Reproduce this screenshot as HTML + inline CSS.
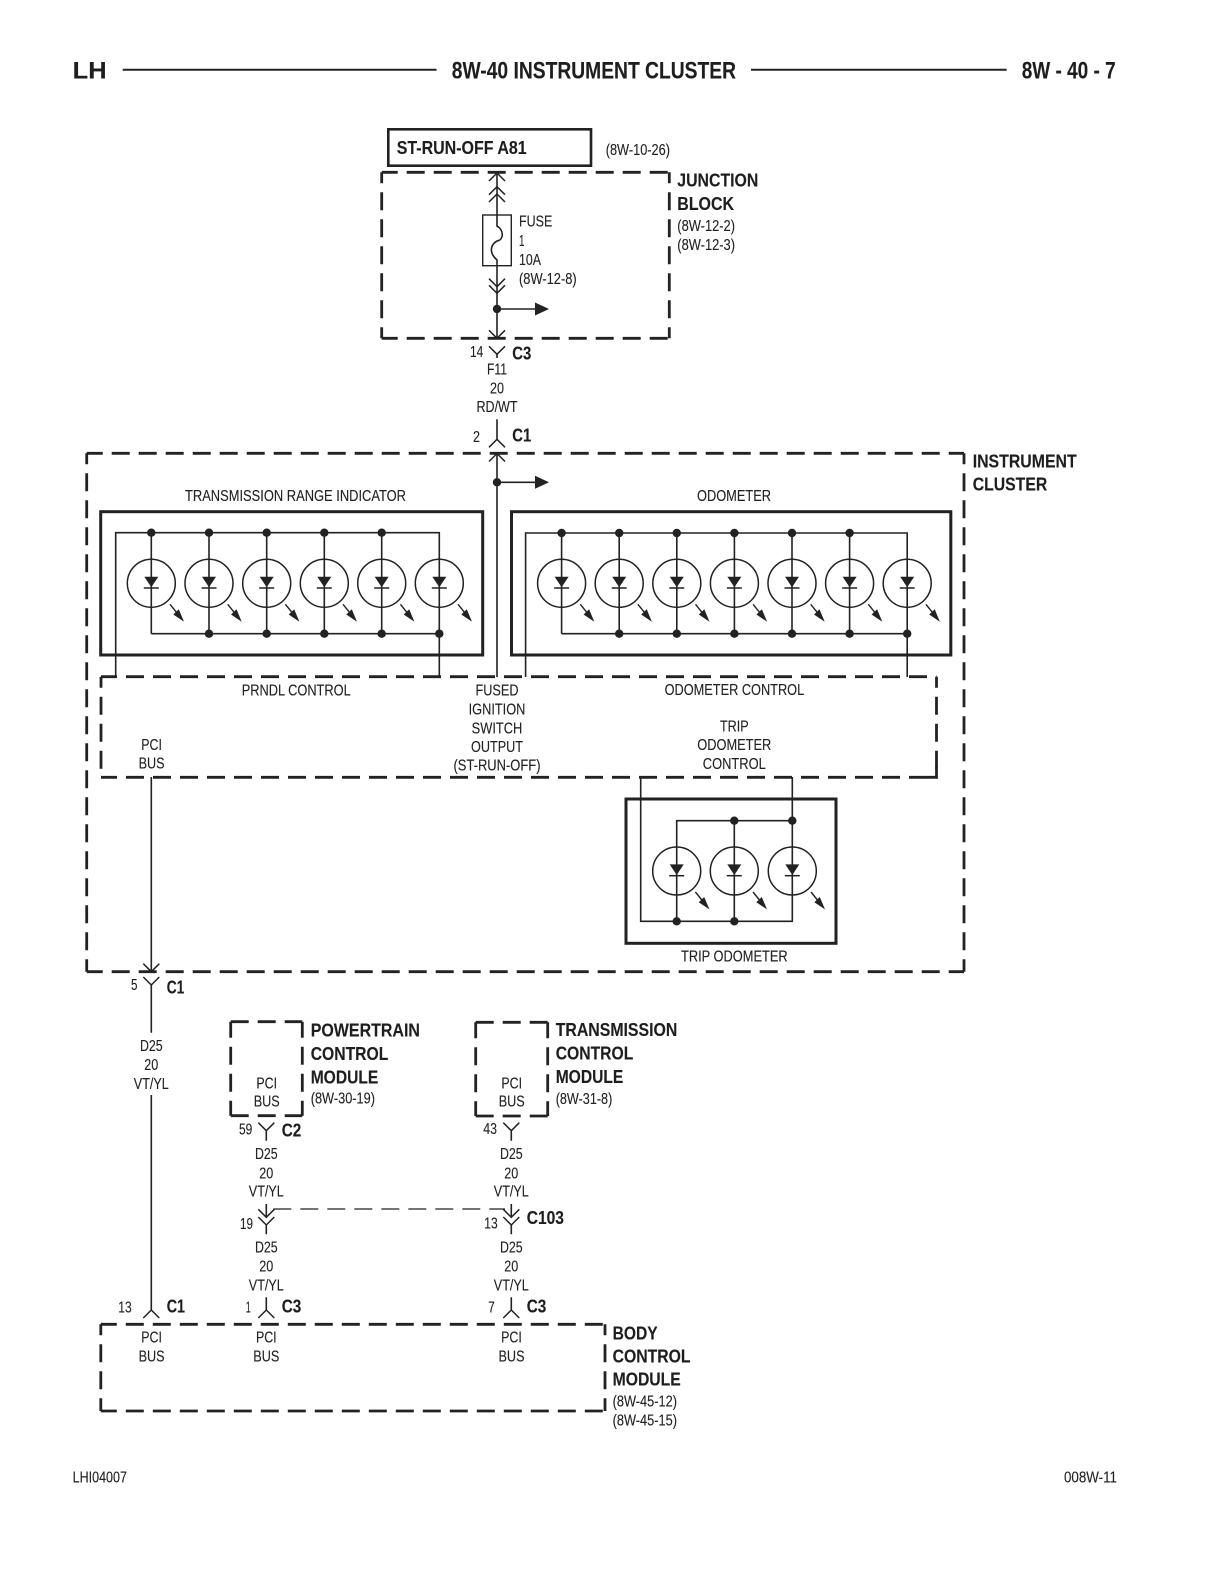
<!DOCTYPE html>
<html><head><meta charset="utf-8"><title>8W-40 Instrument Cluster</title>
<style>
html,body{margin:0;padding:0;background:#fff}
svg{display:block}
text{font-family:"Liberation Sans",Arial,sans-serif;fill:#222;font-size:15.5px;stroke:#222;stroke-width:.12}
.b{font-weight:bold;font-size:18.5px;fill:#1e1e1e}
.h{font-weight:bold;font-size:24.5px;fill:#1e1e1e}
.m{text-anchor:middle}
.l{stroke:#222;fill:none;stroke-width:1.6}
.t{stroke:#222;fill:none;stroke-width:3}
.h1{stroke:#222;fill:none;stroke-width:2.8;stroke-dasharray:18 9;stroke-dashoffset:2}
.v1{stroke:#222;fill:none;stroke-width:2.8;stroke-dasharray:18 9;stroke-dashoffset:7}
.dot{fill:#222}
</style></head><body>
<svg xmlns="http://www.w3.org/2000/svg" width="1224" height="1584" viewBox="0 0 1224 1584">
<defs>
<g id="led">
<circle r="24" fill="none" stroke="#222" stroke-width="1.5"/>
<polygon points="-7,-6.6 7,-6.6 0,4" fill="#222"/>
<path d="M-7.5,4.7H7.5" stroke="#222" stroke-width="1.5"/>
<path d="M18.7,21L30,35" stroke="#222" stroke-width="1.4"/>
<polygon points="27.5,26 22,31.2 32.7,38.4" fill="#222"/>
</g>
<polyline id="dn" points="-8,-8 0,0 8,-8" fill="none" stroke="#222" stroke-width="1.5"/>
<polyline id="up" points="-8,8 0,0 8,8" fill="none" stroke="#222" stroke-width="1.5"/>
<circle id="p" r="4.2" fill="#222"/>
</defs>

<!-- header -->
<text class="h" x="72.7" y="78.3" textLength="34" lengthAdjust="spacingAndGlyphs">LH</text>
<path d="M122.7,69.7H436.5M751,69.7H1006.7" stroke="#222" stroke-width="2"/>
<text class="h" x="451.8" y="78.3" textLength="284.2" lengthAdjust="spacingAndGlyphs">8W-40 INSTRUMENT CLUSTER</text>
<text class="h" x="1021.7" y="78.3" textLength="94" lengthAdjust="spacingAndGlyphs">8W - 40 - 7</text>

<!-- ST-RUN-OFF -->
<rect x="388.3" y="129.3" width="202.7" height="36.4" fill="none" stroke="#222" stroke-width="2.6"/>
<text class="b" x="396.7" y="154" textLength="130" lengthAdjust="spacingAndGlyphs">ST-RUN-OFF A81</text>
<text x="605.7" y="155" textLength="64.3" lengthAdjust="spacingAndGlyphs">(8W-10-26)</text>

<!-- Junction block -->
<path class="h1" d="M381.7,172.3H669.3M381.7,338.3H669.3"/>
<path class="v1" d="M381.7,172.3V338.3M669.3,172.3V338.3"/>
<text class="b" x="677.3" y="186.7" textLength="81" lengthAdjust="spacingAndGlyphs">JUNCTION</text>
<text class="b" x="677.3" y="210" textLength="56.7" lengthAdjust="spacingAndGlyphs">BLOCK</text>
<text x="677.3" y="231" textLength="57.7" lengthAdjust="spacingAndGlyphs">(8W-12-2)</text>
<text x="677.3" y="250" textLength="57.7" lengthAdjust="spacingAndGlyphs">(8W-12-3)</text>
<path class="l" d="M497,173V226C504,230 504,240 497,241C490,245 489,253 497,260V338"/>
<rect x="482.7" y="215" width="28.6" height="50.7" fill="none" stroke="#222" stroke-width="1.4"/>
<use href="#up" x="497" y="173"/><use href="#up" x="497" y="186.7"/><use href="#up" x="497" y="194"/>
<use href="#dn" x="497" y="286.7"/><use href="#dn" x="497" y="293.3"/><use href="#dn" x="497" y="338.3"/>
<use href="#p" x="497" y="309"/>
<path class="l" d="M497,309H536"/><polygon points="535,302.5 535,315.5 549,309" fill="#222"/>
<text x="519" y="226.7" textLength="33.3" lengthAdjust="spacingAndGlyphs">FUSE</text>
<text x="519" y="246" textLength="5.5" lengthAdjust="spacingAndGlyphs">1</text>
<text x="519" y="265" textLength="22" lengthAdjust="spacingAndGlyphs">10A</text>
<text x="519" y="284" textLength="57.7" lengthAdjust="spacingAndGlyphs">(8W-12-8)</text>

<!-- C3 / F11 -->
<use href="#dn" x="497" y="354.3"/><path class="l" d="M497,354V358"/>
<text x="470" y="357" textLength="13.3" lengthAdjust="spacingAndGlyphs">14</text>
<text class="b" x="512.3" y="359.3" textLength="19" lengthAdjust="spacingAndGlyphs">C3</text>
<text class="m" x="497" y="374.3" textLength="20" lengthAdjust="spacingAndGlyphs">F11</text>
<text class="m" x="497" y="393.3" textLength="14" lengthAdjust="spacingAndGlyphs">20</text>
<text class="m" x="497" y="412" textLength="41" lengthAdjust="spacingAndGlyphs">RD/WT</text>
<path class="l" d="M497,419.3V439.3"/><use href="#up" x="497" y="439.3"/>
<text x="473" y="442" textLength="7" lengthAdjust="spacingAndGlyphs">2</text>
<text class="b" x="512.3" y="441.7" textLength="19" lengthAdjust="spacingAndGlyphs">C1</text>

<!-- Instrument cluster -->
<path class="h1" d="M86.7,453.3H964M86.7,971.7H964"/>
<path class="v1" d="M86.7,453.3V971.7M964,453.3V971.7"/>
<text class="b" x="972.7" y="467.7" textLength="104" lengthAdjust="spacingAndGlyphs">INSTRUMENT</text>
<text class="b" x="972.7" y="490.7" textLength="74.6" lengthAdjust="spacingAndGlyphs">CLUSTER</text>
<use href="#up" x="497" y="453.5"/>
<path class="l" d="M497,453V677"/>
<use href="#p" x="497" y="482.3"/>
<path class="l" d="M497,482.3H536"/><polygon points="535,475.8 535,488.8 549,482.3" fill="#222"/>

<!-- Transmission range -->
<text x="185" y="501" textLength="221" lengthAdjust="spacingAndGlyphs">TRANSMISSION RANGE INDICATOR</text>
<rect class="t" x="100.7" y="511.7" width="382" height="143.3"/>
<path class="l" d="M115.7,677V532.7H439.3V677M151.3,633.7H439.3M151.3,532.7V633.7M209,532.7V633.7M266.7,532.7V633.7M324.3,532.7V633.7M381.7,532.7V633.7"/>
<use href="#led" x="151.3" y="583.3"/><use href="#led" x="209" y="583.3"/><use href="#led" x="266.7" y="583.3"/><use href="#led" x="324.3" y="583.3"/><use href="#led" x="381.7" y="583.3"/><use href="#led" x="439.3" y="583.3"/>
<use href="#p" x="151.3" y="532.7"/><use href="#p" x="209" y="532.7"/><use href="#p" x="266.7" y="532.7"/><use href="#p" x="324.3" y="532.7"/><use href="#p" x="381.7" y="532.7"/>
<use href="#p" x="209" y="633.7"/><use href="#p" x="266.7" y="633.7"/><use href="#p" x="324.3" y="633.7"/><use href="#p" x="381.7" y="633.7"/><use href="#p" x="439.3" y="633.7"/>

<!-- Odometer -->
<text x="697" y="501" textLength="74" lengthAdjust="spacingAndGlyphs">ODOMETER</text>
<rect class="t" x="511.5" y="511.7" width="439.3" height="143.3"/>
<path class="l" d="M525.6,677V533H907.2V677M561.6,633.7H907.2M561.6,533V633.7M619.2,533V633.7M676.8,533V633.7M734.4,533V633.7M792,533V633.7M849.6,533V633.7"/>
<use href="#led" x="561.6" y="583.3"/><use href="#led" x="619.2" y="583.3"/><use href="#led" x="676.8" y="583.3"/><use href="#led" x="734.4" y="583.3"/><use href="#led" x="792" y="583.3"/><use href="#led" x="849.6" y="583.3"/><use href="#led" x="907.2" y="583.3"/>
<use href="#p" x="561.6" y="533"/><use href="#p" x="619.2" y="533"/><use href="#p" x="676.8" y="533"/><use href="#p" x="734.4" y="533"/><use href="#p" x="792" y="533"/><use href="#p" x="849.6" y="533"/>
<use href="#p" x="619.2" y="633.7"/><use href="#p" x="676.8" y="633.7"/><use href="#p" x="734.4" y="633.7"/><use href="#p" x="792" y="633.7"/><use href="#p" x="849.6" y="633.7"/><use href="#p" x="907.2" y="633.7"/>

<!-- Control box -->
<path class="h1" d="M101,676.7H936.5M101,777.3H936.5"/>
<path class="v1" d="M101,676.7V777.3M936.5,676.7V777.3"/>
<path d="M928,777.3H937.9V767" fill="none" stroke="#222" stroke-width="2.8" transform="translate(-1.4,0)"/>
<text x="241.7" y="695.7" textLength="109" lengthAdjust="spacingAndGlyphs">PRNDL CONTROL</text>
<text class="m" x="497" y="695.7" textLength="43" lengthAdjust="spacingAndGlyphs">FUSED</text>
<text class="m" x="497" y="714.3" textLength="56.7" lengthAdjust="spacingAndGlyphs">IGNITION</text>
<text class="m" x="497" y="733.3" textLength="50.7" lengthAdjust="spacingAndGlyphs">SWITCH</text>
<text class="m" x="497" y="752" textLength="52" lengthAdjust="spacingAndGlyphs">OUTPUT</text>
<text class="m" x="497" y="770.7" textLength="87" lengthAdjust="spacingAndGlyphs">(ST-RUN-OFF)</text>
<text class="m" x="151.6" y="750" textLength="20.7" lengthAdjust="spacingAndGlyphs">PCI</text>
<text class="m" x="151.6" y="768.7" textLength="26" lengthAdjust="spacingAndGlyphs">BUS</text>
<text x="664.6" y="695" textLength="139.6" lengthAdjust="spacingAndGlyphs">ODOMETER CONTROL</text>
<text class="m" x="734.3" y="731.7" textLength="28.7" lengthAdjust="spacingAndGlyphs">TRIP</text>
<text class="m" x="734.3" y="750" textLength="74" lengthAdjust="spacingAndGlyphs">ODOMETER</text>
<text class="m" x="734.3" y="769" textLength="63" lengthAdjust="spacingAndGlyphs">CONTROL</text>

<!-- Trip odometer -->
<rect class="t" x="626" y="799" width="210" height="144.3"/>
<path class="l" d="M640.7,777V921.3H792.3V777M676.7,921.3V820.7H792.3M734.3,820.7V921.3"/>
<use href="#led" x="676.7" y="871"/><use href="#led" x="734.3" y="871"/><use href="#led" x="792.3" y="871"/>
<use href="#p" x="734.3" y="820.7"/><use href="#p" x="792.3" y="820.7"/><use href="#p" x="676.7" y="921.3"/><use href="#p" x="734.3" y="921.3"/>
<text x="681" y="961.7" textLength="106.7" lengthAdjust="spacingAndGlyphs">TRIP ODOMETER</text>

<!-- PCI wire -->
<path class="l" d="M151.3,777V971M151.3,985V1032.7M151.3,1095V1310"/>
<use href="#dn" x="151.3" y="971.7"/><use href="#dn" x="151.3" y="985"/>
<text x="131" y="990" textLength="6.5" lengthAdjust="spacingAndGlyphs">5</text>
<text class="b" x="166.7" y="993.3" textLength="17.6" lengthAdjust="spacingAndGlyphs">C1</text>
<text class="m" x="151.3" y="1051" textLength="22.7" lengthAdjust="spacingAndGlyphs">D25</text>
<text class="m" x="151.3" y="1070" textLength="14" lengthAdjust="spacingAndGlyphs">20</text>
<text class="m" x="151.3" y="1089" textLength="35" lengthAdjust="spacingAndGlyphs">VT/YL</text>
<use href="#up" x="151.3" y="1310"/>
<text x="118.3" y="1312.7" textLength="13.4" lengthAdjust="spacingAndGlyphs">13</text>
<text class="b" x="166.7" y="1312.7" textLength="18.3" lengthAdjust="spacingAndGlyphs">C1</text>

<!-- PCM -->
<path class="h1" style="stroke-dashoffset:0" d="M230.7,1021.7H302.3M230.7,1115.7H302.3"/>
<path class="v1" style="stroke-dashoffset:2" d="M230.7,1021.7V1115.7M302.3,1021.7V1115.7"/>
<text class="b" x="310.7" y="1036.7" textLength="109.3" lengthAdjust="spacingAndGlyphs">POWERTRAIN</text>
<text class="b" x="310.7" y="1060" textLength="77.6" lengthAdjust="spacingAndGlyphs">CONTROL</text>
<text class="b" x="310.7" y="1083.3" textLength="67.6" lengthAdjust="spacingAndGlyphs">MODULE</text>
<text x="310.7" y="1103.3" textLength="64.3" lengthAdjust="spacingAndGlyphs">(8W-30-19)</text>
<text class="m" x="266.7" y="1088.3" textLength="20.7" lengthAdjust="spacingAndGlyphs">PCI</text>
<text class="m" x="266.7" y="1106.7" textLength="26" lengthAdjust="spacingAndGlyphs">BUS</text>

<!-- TCM -->
<path class="h1" style="stroke-dashoffset:0" d="M475.7,1022.3H547.7M475.7,1116H547.7"/>
<path class="v1" style="stroke-dashoffset:2" d="M475.7,1022.3V1116M547.7,1022.3V1116"/>
<text class="b" x="555.7" y="1036" textLength="121.6" lengthAdjust="spacingAndGlyphs">TRANSMISSION</text>
<text class="b" x="555.7" y="1059.3" textLength="77.6" lengthAdjust="spacingAndGlyphs">CONTROL</text>
<text class="b" x="555.7" y="1083" textLength="67.6" lengthAdjust="spacingAndGlyphs">MODULE</text>
<text x="555.7" y="1104" textLength="56.6" lengthAdjust="spacingAndGlyphs">(8W-31-8)</text>
<text class="m" x="511.7" y="1088.3" textLength="20.7" lengthAdjust="spacingAndGlyphs">PCI</text>
<text class="m" x="511.7" y="1106.7" textLength="26" lengthAdjust="spacingAndGlyphs">BUS</text>

<!-- PCM wire column -->
<use href="#dn" x="266.3" y="1130.7"/><path class="l" d="M266.3,1130.7V1140.7M266.3,1204V1217M266.3,1225V1234.3M266.3,1297.3V1310"/>
<text x="239" y="1134.3" textLength="13.3" lengthAdjust="spacingAndGlyphs">59</text>
<text class="b" x="281.7" y="1136.7" textLength="19.6" lengthAdjust="spacingAndGlyphs">C2</text>
<text class="m" x="266.3" y="1159" textLength="22.7" lengthAdjust="spacingAndGlyphs">D25</text>
<text class="m" x="266.3" y="1178.3" textLength="14" lengthAdjust="spacingAndGlyphs">20</text>
<text class="m" x="266.3" y="1196.7" textLength="35" lengthAdjust="spacingAndGlyphs">VT/YL</text>
<use href="#dn" x="266.3" y="1217.3"/><use href="#dn" x="266.3" y="1225"/>
<text x="240" y="1229" textLength="13" lengthAdjust="spacingAndGlyphs">19</text>
<text class="m" x="266.3" y="1252.7" textLength="22.7" lengthAdjust="spacingAndGlyphs">D25</text>
<text class="m" x="266.3" y="1271.7" textLength="14" lengthAdjust="spacingAndGlyphs">20</text>
<text class="m" x="266.3" y="1290.3" textLength="35" lengthAdjust="spacingAndGlyphs">VT/YL</text>
<use href="#up" x="266.3" y="1310"/>
<text x="245.7" y="1312.7" textLength="5" lengthAdjust="spacingAndGlyphs">1</text>
<text class="b" x="281.7" y="1312.7" textLength="19.6" lengthAdjust="spacingAndGlyphs">C3</text>

<!-- Splice dashed -->
<path d="M273.3,1209H505" fill="none" stroke="#222" stroke-width="1.2" stroke-dasharray="18 9"/>

<!-- TCM wire column -->
<use href="#dn" x="511.3" y="1130.7"/><path class="l" d="M511.3,1130.7V1140.7M511.3,1204V1217M511.3,1225V1234.3M511.3,1297.3V1310"/>
<text x="483.3" y="1134" textLength="13.7" lengthAdjust="spacingAndGlyphs">43</text>
<text class="m" x="511.3" y="1159" textLength="22.7" lengthAdjust="spacingAndGlyphs">D25</text>
<text class="m" x="511.3" y="1178.3" textLength="14" lengthAdjust="spacingAndGlyphs">20</text>
<text class="m" x="511.3" y="1196.7" textLength="35" lengthAdjust="spacingAndGlyphs">VT/YL</text>
<use href="#dn" x="511.3" y="1217.3"/><use href="#dn" x="511.3" y="1225"/>
<text x="484.3" y="1228.3" textLength="13.4" lengthAdjust="spacingAndGlyphs">13</text>
<text class="b" x="526.7" y="1224" textLength="37.3" lengthAdjust="spacingAndGlyphs">C103</text>
<text class="m" x="511.3" y="1252.7" textLength="22.7" lengthAdjust="spacingAndGlyphs">D25</text>
<text class="m" x="511.3" y="1271.7" textLength="14" lengthAdjust="spacingAndGlyphs">20</text>
<text class="m" x="511.3" y="1290.3" textLength="35" lengthAdjust="spacingAndGlyphs">VT/YL</text>
<use href="#up" x="511.3" y="1310"/>
<text x="488.3" y="1312.7" textLength="6.5" lengthAdjust="spacingAndGlyphs">7</text>
<text class="b" x="526.7" y="1312.7" textLength="19.6" lengthAdjust="spacingAndGlyphs">C3</text>

<!-- BCM -->
<path class="h1" d="M100.8,1324.3H605M100.8,1411H605"/>
<path class="v1" d="M100.8,1324.3V1411M605,1324.3V1411"/>
<text class="m" x="151.6" y="1342.7" textLength="20.7" lengthAdjust="spacingAndGlyphs">PCI</text>
<text class="m" x="151.6" y="1361.7" textLength="26" lengthAdjust="spacingAndGlyphs">BUS</text>
<text class="m" x="266.3" y="1342.7" textLength="20.7" lengthAdjust="spacingAndGlyphs">PCI</text>
<text class="m" x="266.3" y="1361.7" textLength="26" lengthAdjust="spacingAndGlyphs">BUS</text>
<text class="m" x="511.5" y="1342.7" textLength="20.7" lengthAdjust="spacingAndGlyphs">PCI</text>
<text class="m" x="511.5" y="1361.7" textLength="26" lengthAdjust="spacingAndGlyphs">BUS</text>
<text class="b" x="612.6" y="1339.3" textLength="45" lengthAdjust="spacingAndGlyphs">BODY</text>
<text class="b" x="612.6" y="1362.3" textLength="77.9" lengthAdjust="spacingAndGlyphs">CONTROL</text>
<text class="b" x="612.6" y="1385.7" textLength="68.2" lengthAdjust="spacingAndGlyphs">MODULE</text>
<text x="612.6" y="1406.7" textLength="64.4" lengthAdjust="spacingAndGlyphs">(8W-45-12)</text>
<text x="612.6" y="1425.7" textLength="64.4" lengthAdjust="spacingAndGlyphs">(8W-45-15)</text>

<!-- footer -->
<text x="72.6" y="1482.7" textLength="54.4" lengthAdjust="spacingAndGlyphs">LHI04007</text>
<text x="1064" y="1482.7" textLength="53" lengthAdjust="spacingAndGlyphs">008W-11</text>
</svg>
</body></html>
